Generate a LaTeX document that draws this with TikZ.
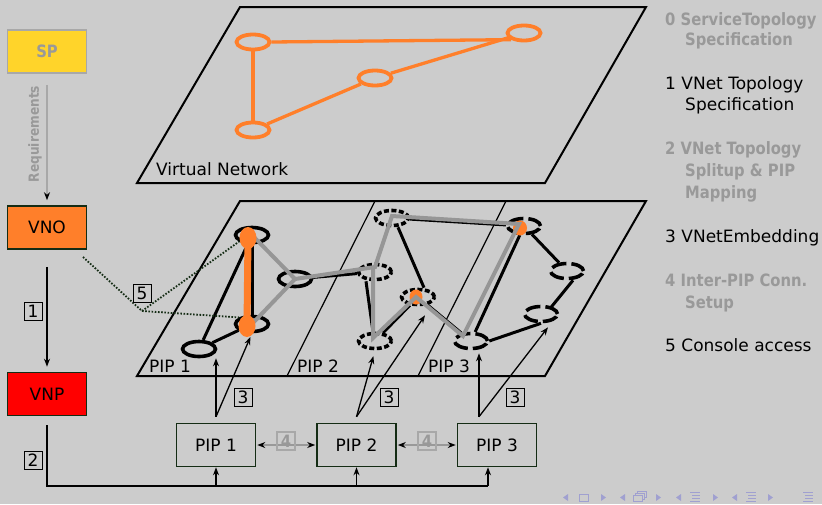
\documentclass[tikz,border=0pt]{standalone}
\usepackage{fontspec}
\setmainfont{DejaVu Sans}
\newfontfamily\cbf{DejaVu Sans}[FakeStretch=0.87]
\usetikzlibrary{arrows.meta,calc,shapes.geometric}
\definecolor{bg}{RGB}{204,204,204}
\definecolor{vorange}{RGB}{255,127,42}
\definecolor{spyellow}{RGB}{255,212,42}
\definecolor{dgreen}{RGB}{20,44,20}
\definecolor{midgray}{RGB}{153,153,153}
\definecolor{lgray}{RGB}{168,168,168}
\definecolor{pathgray}{RGB}{150,150,150}
\definecolor{navc}{RGB}{160,160,208}
\newcommand{\myfs}[1]{\fontsize{#1pt}{#1pt}\selectfont}
\begin{document}
\begin{tikzpicture}[x=1pt,y=-1pt,
  plane/.style={draw=black,line width=2pt},
  divider/.style={draw=black,line width=1.2pt},
  vnode/.style={ellipse,draw=vorange,line width=3.8pt,minimum width=33pt,minimum height=15pt,inner sep=0pt},
  pnode/.style={ellipse,draw=black,line width=3.6pt,minimum width=33pt,minimum height=15pt,inner sep=0pt},
  pnodeb/.style={pnode,dash pattern=on 5pt off 2.5pt},
  pnodec/.style={pnode,dash pattern=on 15pt off 5pt},
  vlink/.style={draw=vorange,line width=3.3pt},
  plink/.style={draw=black,line width=3pt},
  glink/.style={draw=pathgray,line width=4pt},
  oblob/.style={ellipse,fill=vorange,inner sep=0pt},
  boxn/.style={rectangle,draw=dgreen,line width=1.6pt,minimum width=79pt,minimum height=43pt,inner sep=0pt,font=\myfs{17}},
  numbox/.style={rectangle,draw=black,line width=1pt,minimum width=18pt,minimum height=18pt,inner sep=0pt,font=\myfs{17}},
  numboxg/.style={rectangle,draw=lgray,line width=1.8pt,minimum width=18pt,minimum height=18pt,inner sep=0pt,text=midgray,font=\cbf\bfseries\myfs{17}},
  arr/.style={-{Stealth[length=8pt,width=6pt]},line width=1.3pt},
  darr/.style={{Stealth[length=8pt,width=6pt,color=black]}-{Stealth[length=8pt,width=6pt,color=black]},draw=midgray,line width=1.2pt},
  garr/.style={-{Stealth[length=8pt,width=6pt,color=black]},draw=lgray,line width=1.3pt},
  dots5/.style={draw=dgreen,line width=1.8pt,dash pattern=on 1.6pt off 1.6pt},
  lbl/.style={anchor=base west,inner sep=0pt,font=\myfs{17}},
  rtext/.style={anchor=base west,inner sep=0pt,font=\myfs{17}},
  rtextg/.style={anchor=base west,inner sep=0pt,font=\cbf\bfseries\myfs{17},text=midgray}
]
\path[use as bounding box,fill=bg] (0,0) rectangle (822,504);

% ---------- left column ----------
\node[boxn,draw=lgray,fill=spyellow,text=midgray,font=\cbf\bfseries\myfs{17}] (SP) at (47,51.5) {SP};
\node[boxn,fill=vorange] (VNO) at (47,227.5) {VNO};
\node[boxn,fill=red] (VNP) at (47,394) {VNP};
\draw[garr,shorten <=11pt,shorten >=5pt] (SP.south) -- (VNO.north);
\node[rotate=90,inner sep=0pt,text=midgray,font=\cbf\bfseries\myfs{14}] (req) at (35,134) {Requirements};
\draw[arr,shorten <=17pt,shorten >=5pt] (VNO.south) -- (VNP.north);
\node[numbox] (n1) at (33,311) {1};

% ---------- PIP boxes ----------
\node[boxn] (PIP1) at (216,445) {PIP 1};
\node[boxn] (PIP2) at (356.5,445) {PIP 2};
\node[boxn] (PIP3) at (497,445) {PIP 3};
\coordinate (c2) at ([yshift=-9pt]VNP.south);
\coordinate (bus1) at (216,486);
\coordinate (bus2) at (356.5,486);
\coordinate (bus3) at (488,486);
\draw[line width=1.3pt] (c2) |- (bus3);
\node[numbox] (n2) at (33,460) {2};
\draw[arr] (bus1) -- (bus1 |- PIP1.south);
\draw[arr] (bus2) -- (bus2 |- PIP2.south);
\draw[arr] (bus3) -- (bus3 |- PIP3.south);
\draw[darr,shorten <=1pt,shorten >=1pt] (PIP1.east) -- (PIP2.west);
\draw[darr,shorten <=1pt,shorten >=1pt] (PIP2.east) -- (PIP3.west);
\node[numboxg] (n4a) at (286,441) {4};
\node[numboxg] (n4b) at (427,441) {4};

% ---------- virtual network plane ----------
\draw[plane] (240,7) -- (646,7) -- (545,183) -- (137,183) -- cycle;
\node[lbl] (vnlabel) at (156,175) {Virtual Network};
\node[vnode] (A) at (253,42) {};
\node[vnode] (B) at (524,33) {};
\node[vnode] (C) at (375,78) {};
\node[vnode] (D) at (253,130) {};
\draw[vlink] (A.east) -- (B.south west);
\draw[vlink] (A) -- (D);
\draw[vlink] (D) -- (C);
\draw[vlink] (C) -- (B);

% ---------- physical plane ----------
\draw[plane] (240,201) -- (646,201) -- (545,376) -- (137,376) -- cycle;
\draw[divider] (287,376) -- (375,201);
\draw[divider] (418,376) -- (506,201);
\node[lbl] (l1) at (149,372) {PIP 1};
\node[lbl] (l2) at (297,372) {PIP 2};
\node[lbl] (l3) at (428,372) {PIP 3};

\node[pnode] (P1a) at (252,235) {};
\node[pnode] (P1b) at (295,279) {};
\node[pnode] (P1c) at (252,324) {};
\node[pnode] (P1d) at (199,349) {};
\node[pnodeb] (Q1) at (392,218) {};
\node[pnodeb] (Q2) at (375,272) {};
\node[pnodeb] (Q3) at (418,297) {};
\node[pnodeb] (Q4) at (375,341) {};
\node[pnodec] (R1) at (524,226) {};
\node[pnodec] (R2) at (567,271) {};
\node[pnodec] (R3) at (541,314) {};
\node[pnodec] (R4) at (471,341) {};

\draw[plink] (P1a) -- (P1d);
\draw[plink] (P1d) -- (P1c);
\draw[plink] (P1a) -- (P1c);
\draw[plink] (P1b) -- (Q2);
\draw[plink] ([xshift=-9pt]Q2.south) -- ([xshift=-2pt]Q4.north);
\draw[plink] ([xshift=6pt]Q1.south) -- ([xshift=6pt]Q3.north);
\draw[plink] (Q4) -- (Q3);
\draw[plink] (Q3) -- (R4);
\draw[plink] (R4) -- (R1);
\draw[plink] (R1) -- (R2);
\draw[plink] ([xshift=6pt]R2.south) -- ([xshift=-3pt]R3.north east);
\draw[plink] (R3.south) -- (R4.east);
\draw[plink] (Q1) -- (R1);

\node[oblob,minimum width=13pt,minimum height=15pt] (o3) at (416,297) {};
\node[oblob,minimum width=14pt,minimum height=15pt] (o4) at (520,228) {};

\draw[glink] (P1a.center) -- (P1b.center) -- (P1c.center);
\draw[glink] (P1b.center) -- ([yshift=5pt]Q2.center) -- ([yshift=2pt]Q1.center)
  -- ([xshift=-5pt,yshift=2pt]R1.center) -- ([xshift=-8pt,yshift=5pt]R4.center)
  -- ([xshift=-2pt]Q3.center) -- ([xshift=-2pt,yshift=3pt]Q4.center)
  -- ([xshift=-2pt,yshift=5pt]Q2.center);

\node[oblob,minimum width=17pt,minimum height=22pt] (o1) at (248,238) {};
\node[oblob,minimum width=17pt,minimum height=22pt] (o2) at (247,326) {};
\draw[vorange,line width=7pt] (o1.center) -- (o2.center);

% ---------- console access (5) ----------
\coordinate (d0) at (83,257);
\coordinate (d1) at (142,311);
\draw[dots5] (d0) -- (d1) -- (P1a.south west);
\draw[dots5] (d1) -- (P1c.north west);
\node[numbox] (n5) at (142,293) {5};

% ---------- embedding arrows (3) ----------
\coordinate (a1) at ([yshift=6pt]PIP1.north);
\coordinate (a2) at ([yshift=6pt]PIP2.north);
\coordinate (a3) at ([xshift=-18pt,yshift=6pt]PIP3.north);
\draw[arr] (a1) -- (a1 |- P1d.south);
\draw[arr,shorten >=4pt] (a1) -- (P1c.south);
\draw[arr,shorten >=6pt] (a2) -- (Q4.south);
\draw[arr] (a2) -- ($(Q3.south)+(7,9)$);
\draw[arr,shorten >=3pt] (a3) -- (a3 |- R4.south);
\draw[arr] (a3) -- ($(R3.south)+(7,4)$);
\node[numbox] (n3a) at (243,397) {3};
\node[numbox] (n3b) at (389,397) {3};
\node[numbox] (n3c) at (515,397) {3};

% ---------- right-hand list ----------
\node[rtextg] (t0a) at (665,25) {0 ServiceTopology};
\node[rtextg] (t0b) at (685,45) {Specification};
\node[rtext] (t1a) at (665,89) {1 VNet Topology};
\node[rtext] (t1b) at (685,110) {Specification};
\node[rtextg] (t2a) at (665,154) {2 VNet Topology};
\node[rtextg] (t2b) at (685,176) {Splitup \& PIP};
\node[rtextg] (t2c) at (685,198) {Mapping};
\node[rtext] (t3) at (665,242) {3 VNetEmbedding};
\node[rtextg] (t4a) at (665,286) {4 Inter-PIP Conn.};
\node[rtextg] (t4b) at (685,308) {Setup};
\node[rtext] (t5) at (665,351) {5 Console access};

% ---------- navigation symbols ----------
\begin{scope}[fill=navc,draw=navc,line width=0.9pt]
\fill (568,494) -- (563,497.5) -- (568,501) -- cycle;
\draw (579,494) rectangle (588,501);
\fill (601,494) -- (606,497.5) -- (601,501) -- cycle;
\fill (625,494) -- (620,497.5) -- (625,501) -- cycle;
\draw (633,495) rectangle (642,501);
\draw (635,495) -- (635,493) -- (644,493) -- (644,499) -- (642,499);
\draw (637,493) -- (637,491) -- (646,491) -- (646,497) -- (644,497);
\fill (656,494) -- (661,497.5) -- (656,501) -- cycle;
\fill (681,494) -- (676,497.5) -- (681,501) -- cycle;
\draw (690,492) -- (700,492); \draw (692,495) -- (700,495); \draw (692,498) -- (700,498); \draw (690,501) -- (700,501);
\fill (713,494) -- (718,497.5) -- (713,501) -- cycle;
\fill (737,494) -- (732,497.5) -- (737,501) -- cycle;
\draw (746,492) -- (756,492); \draw (748,495) -- (756,495); \draw (748,498) -- (756,498); \draw (746,501) -- (756,501);
\fill (768,494) -- (773,497.5) -- (768,501) -- cycle;
\draw (803,492) -- (813,492); \draw (805,495) -- (813,495); \draw (805,498) -- (813,498); \draw (803,501) -- (813,501);
\end{scope}
\end{tikzpicture}
\end{document}
